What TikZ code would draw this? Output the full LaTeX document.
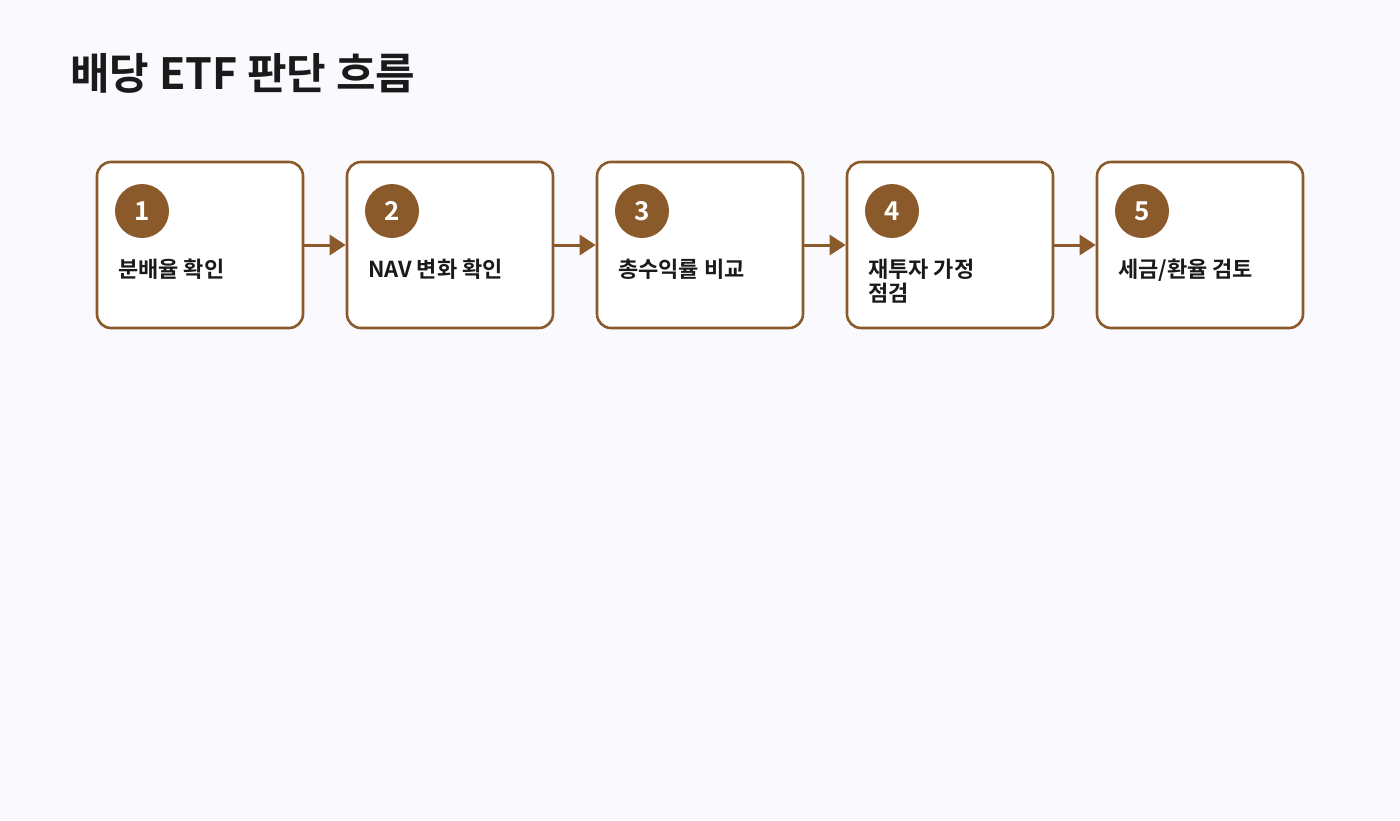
\documentclass[tikz,border=0pt]{standalone}
\usepackage{fontspec}
\newfontfamily\kr{Noto Sans CJK KR Bold}
\usetikzlibrary{arrows.meta}
\definecolor{bg}{HTML}{F9F9FE}
\definecolor{br}{HTML}{8B5A2B}
\definecolor{tx}{HTML}{1A1A1A}
\begin{document}
\begin{tikzpicture}[x=1pt,y=-1pt,
 box/.style={draw=br,line width=2.6pt,fill=white,rounded corners=14pt,minimum width=206pt,minimum height=166pt,inner sep=0},
 num/.style={circle,fill=br,minimum size=54pt,inner sep=0,font=\kr\fontsize{26}{26}\selectfont,text=white},
 lab/.style={anchor=north west,align=left,font=\kr\fontsize{22}{24}\selectfont,text=tx,inner sep=0},
 arr/.style={draw=br,line width=3pt,-{Triangle[length=16pt,width=20pt]}}]
\fill[bg] (0,0) rectangle (1400,820);
\useasboundingbox (0,0) rectangle (1400,820);
\node[anchor=west,font=\kr\fontsize{43}{43}\selectfont,text=tx,inner sep=0] (title) at (70,73) {배당 ETF 판단 흐름};
\foreach \i/\t in {1/{분배율 확인},2/{NAV 변화 확인},3/{총수익률 비교},4/{재투자 가정\\점검},5/{세금/환율 검토}}{
 \pgfmathsetmacro\x{200+250*(\i-1)}
 \node[box] (b\i) at (\x,245) {};
 \node[num] (n\i) at (\x-58,211) {\i};
 \node[lab] (l\i) at (\x-82,259) {\t};
}
\foreach \a/\b in {1/2,2/3,3/4,4/5}{\draw[arr] (b\a.east) -- (b\b.west);}
\end{tikzpicture}
\end{document}
